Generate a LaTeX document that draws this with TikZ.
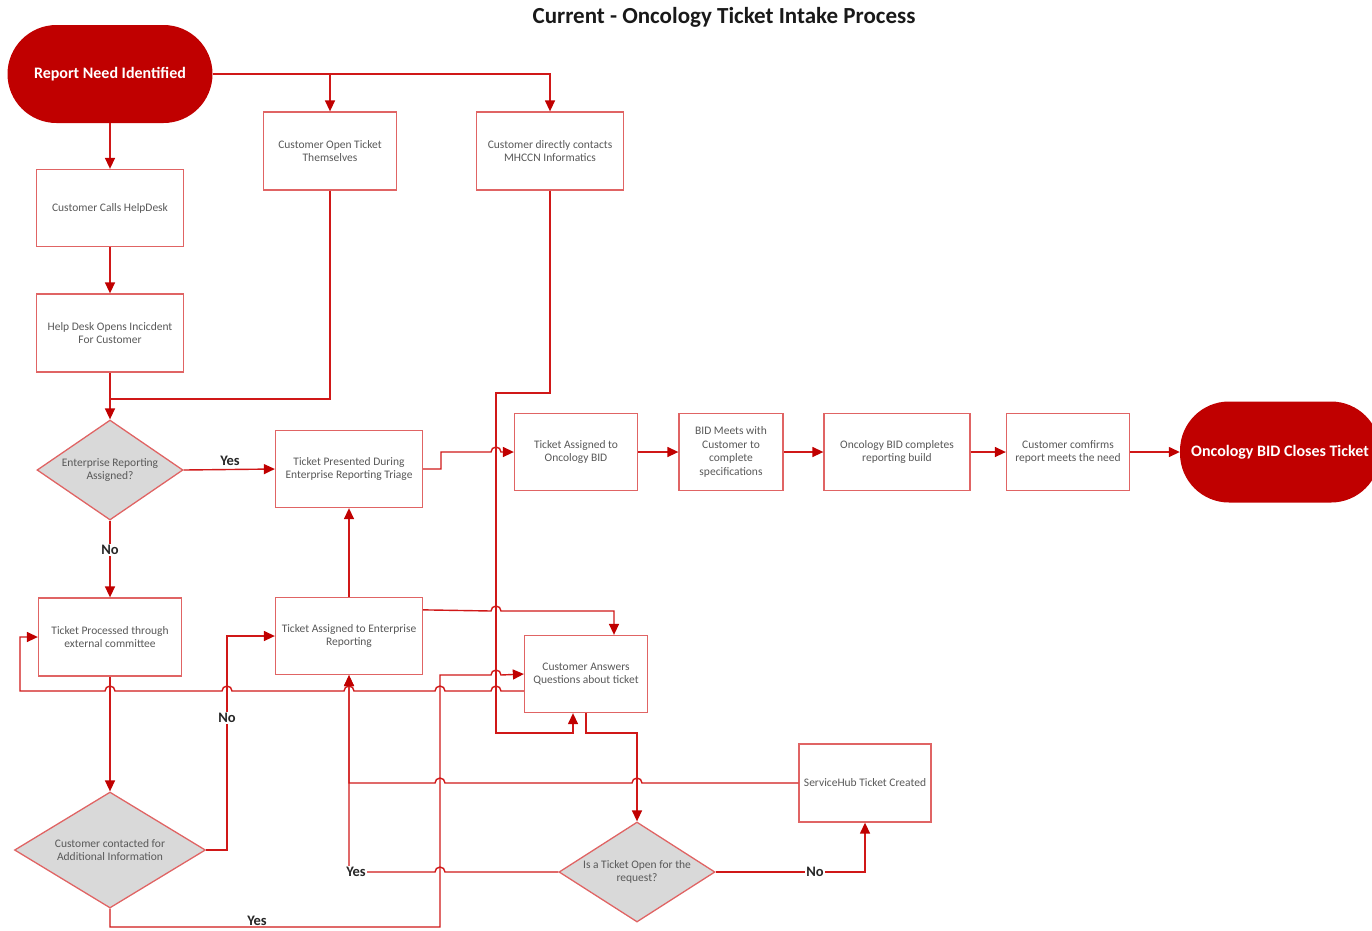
\documentclass[tikz,border=0pt]{standalone}
\usepackage{fontspec}
\setmainfont{Carlito}
\usetikzlibrary{arrows.meta,shapes.geometric}
\definecolor{brand}{HTML}{C00000}
\definecolor{boxline}{HTML}{E06464}
\definecolor{linered}{HTML}{D01818}
\definecolor{txt}{HTML}{595959}
\definecolor{dfill}{HTML}{D9D9D9}

\begin{document}
\begin{tikzpicture}[x=1pt,y=-1pt,
  boxfont/.style={font=\fontsize{11.5}{13.6}\selectfont},
  box/.style={draw=boxline,line width=1.3pt,fill=white,align=center,text=txt,
    boxfont,inner sep=2pt},
  term/.style={fill=brand,rounded corners=49pt,text=white,
    font=\fontsize{16}{18}\selectfont\bfseries,inner sep=0pt},
  decide/.style={diamond,draw=boxline,line width=1.3pt,fill=dfill,inner sep=0pt},
  dtext/.style={align=center,text=txt,boxfont,inner sep=0pt},
  wire/.style={draw=linered,line width=1.4pt},
  flow/.style={wire,-{Triangle[length=11pt,width=10pt,color=brand]}},
  lbl/.style={fill=white,inner sep=1pt,font=\fontsize{14.5}{16}\selectfont\bfseries,text=black!85},
  jr/.style={insert path={arc[start angle=180,end angle=0,radius=5pt]}},
  jl/.style={insert path={arc[start angle=0,end angle=180,radius=5pt]}},
]
\useasboundingbox (0,0) rectangle (1372,930);

% title
\node[font=\fontsize{23}{26}\selectfont\bfseries,text=black!90] (title) at (724,17)
  {Current - Oncology Ticket Intake Process};

% terminators
\node[term,minimum width=205pt,minimum height=98pt] (rni) at (110,74) {Report Need Identified};
\node[term,minimum width=200pt,minimum height=101pt] (obct) at (1280,452) {Oncology BID Closes Ticket};

% process boxes
\node[box,minimum width=147pt,minimum height=77pt] (cch) at (110,208) {Customer Calls HelpDesk};
\node[box,minimum width=147pt,minimum height=78pt] (hdo) at (110,333) {Help Desk Opens Incicdent\\For Customer};
\node[box,minimum width=133pt,minimum height=78pt] (cot) at (330,151) {Customer Open Ticket\\Themselves};
\node[box,minimum width=147pt,minimum height=78pt] (cdc) at (550,151) {Customer directly contacts\\MHCCN Informatics};
\node[box,minimum width=147pt,minimum height=77pt] (tpt) at (349,469) {Ticket Presented During\\Enterprise Reporting Triage};
\node[box,minimum width=123pt,minimum height=77pt] (toa) at (576,452) {Ticket Assigned to\\Oncology BID};
\node[box,minimum width=104pt,minimum height=77pt] (bid) at (731,452) {BID Meets with\\Customer to\\complete\\specifications};
\node[box,minimum width=146pt,minimum height=77pt] (obc) at (897,452) {Oncology BID completes\\reporting build};
\node[box,minimum width=123pt,minimum height=77pt] (ccr) at (1068,452) {Customer comfirms\\report meets the need};
\node[box,minimum width=143pt,minimum height=78pt] (tpe) at (110,637) {Ticket Processed through\\external committee};
\node[box,minimum width=147pt,minimum height=77pt] (tae) at (349,636) {Ticket Assigned to Enterprise\\Reporting};
\node[box,minimum width=123pt,minimum height=77pt] (cab) at (586,674) {Customer Answers\\Questions about ticket};
\node[box,minimum width=132pt,minimum height=78pt] (shc) at (865,783) {ServiceHub Ticket Created};

% decisions (text set as centred labels so the outline keeps its size)
\node[decide,minimum width=146pt,minimum height=100pt,
  label={[dtext]center:Enterprise Reporting\\Assigned?}] (era) at (110,470) {};
\node[decide,minimum width=191pt,minimum height=116pt,
  label={[dtext]center:Customer contacted for\\Additional Information}] (cca) at (110,850) {};
\node[decide,minimum width=156pt,minimum height=100pt,
  label={[dtext]center:Is a Ticket Open for the\\request?}] (iso) at (637,872) {};

% intake branches
\draw[flow] (rni.east) -| (cdc.north);
\draw[flow] (rni.east -| cot.north) -- (cot.north);
\draw[flow] (rni.south) -- (cch.north);
\draw[flow] (cch.south) -- (hdo.north);
\coordinate (m1) at (110,399);
\draw[wire] (cot.south) |- (m1);
\draw[flow] (hdo.south) -- (era.north);

% enterprise reporting decision
\draw[flow] (era.east) -- (tpt.west);
\node[lbl] (lyes1) at (230,461) {Yes};
\draw[flow] (era.south) -- (tpe.north);
\node[lbl] (lno1) at (110,550) {No};

% oncology BID chain
\draw[flow] (tpt.east) -- (441,469) -- (441,452) -- (491,452) [jr] -- (toa.west);
\draw[flow] (toa.east) -- (bid.west);
\draw[flow] (bid.east) -- (obc.west);
\draw[flow] (obc.east) -- (ccr.west);
\draw[flow] (ccr.east) -- (obct.west);

% enterprise reporting assignment
\draw[flow] (tae.north) -- (tpt.south);
\draw[flow] ([yshift=-13pt]tae.north east) -- (491,611) [jr] -- (614,611) -- ([xshift=28pt]cab.north);

% external committee loop
\draw[flow] (tpe.south) -- (cca.north);
\draw[flow] (cca.east) -- (227,850) -- (227,636) -- (tae.west);
\node[lbl] (lno2) at (227,718) {No};
\draw[flow] ([yshift=-17pt]cab.west) -- (501,691) [jl] -- (445,691) [jl] -- (354,691) [jl]
  -- (232,691) [jl] -- (115,691) [jl] -- (20,691) -- (20,637) -- (tpe.west);
\draw[flow] (cca.south) -- (110,927) -- (440,927) -- (440,675) -- (491,675) [jr] -- (cab.west);
\node[lbl,inner sep=0.5pt] (lyes3) at (257,921) {Yes};

% direct contact route
\draw[flow] (cdc.south) -- (550,393) -- (496,393) -- (496,733) -- (573,733) -- ([xshift=-13pt]cab.south);

% open ticket check
\draw[flow] (cab.south) -- (586,733) -- (637,733) -- (iso.north);
\draw[flow] (shc.west) -- (642,783) [jl] -- (445,783) [jl] -- (349,783) -- (tae.south);
\draw[flow] (iso.west) -- (445,872) [jl] -- (349,872) -- (tae.south);
\node[lbl] (lyes2) at (356,872) {Yes};
\draw[flow] (iso.east) -- (865,872) -- (shc.south);
\node[lbl] (lno3) at (815,872) {No};
\end{tikzpicture}
\end{document}
